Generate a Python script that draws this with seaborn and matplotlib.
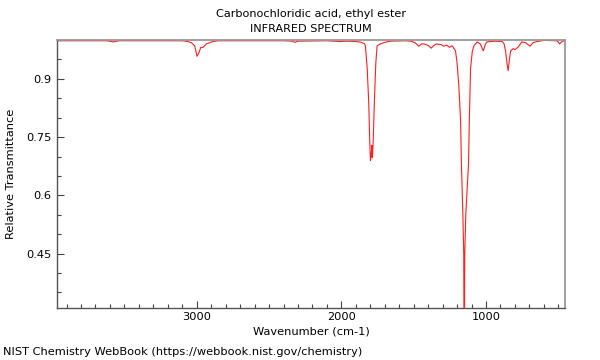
import matplotlib
matplotlib.use("Agg")
import matplotlib.pyplot as plt
import seaborn as sns
import pandas as pd
from matplotlib.ticker import MultipleLocator, FixedLocator

title_line1 = "Carbonochloridic acid, ethyl ester"
title_line2 = "INFRARED SPECTRUM"
x_label = "Wavenumber (cm-1)"
y_label = "Relative Transmittance"
footer = "NIST Chemistry WebBook (https://webbook.nist.gov/chemistry)"

# wavenumber (cm-1), high to low
wavenumber = [
    3966, 3800, 3620, 3575, 3540, 3300, 3100, 3060, 3037, 3014,
    2998, 2984, 2972, 2956, 2933, 2889, 2850, 2600, 2400, 2340,
    2322, 2300, 2100, 2007, 1960, 1900, 1860, 1840, 1834, 1822,
    1811, 1804, 1799, 1794, 1790, 1787, 1785, 1780, 1772, 1762,
    1753, 1730, 1700, 1660, 1560, 1520, 1490, 1465, 1445, 1430,
    1400, 1379, 1360, 1343, 1310, 1292, 1273, 1253, 1234, 1211,
    1200, 1188, 1176, 1170, 1160, 1154, 1151, 1147, 1140, 1130,
    1121, 1115, 1107, 1095, 1084, 1061, 1040, 1019, 1005, 995,
    940, 888, 875, 865, 855, 847, 840, 830, 812, 800,
    777, 753, 725, 696, 675, 661, 600, 509, 491, 475,
    467, 454,
]
transmittance = [
    0.998, 0.998, 0.998, 0.995, 0.998, 0.998, 0.998, 0.996, 0.993, 0.985,
    0.958, 0.968, 0.981, 0.981, 0.990, 0.996, 0.998, 0.998, 0.998, 0.997,
    0.994, 0.997, 0.998, 0.996, 0.997, 0.996, 0.994, 0.990, 0.985, 0.930,
    0.840, 0.740, 0.690, 0.700, 0.729, 0.700, 0.697, 0.740, 0.839, 0.940,
    0.985, 0.990, 0.994, 0.997, 0.998, 0.997, 0.993, 0.984, 0.990, 0.990,
    0.986, 0.979, 0.986, 0.990, 0.988, 0.984, 0.987, 0.981, 0.985, 0.972,
    0.940, 0.882, 0.794, 0.680, 0.550, 0.450, 0.100, 0.450, 0.550, 0.620,
    0.680, 0.800, 0.926, 0.970, 0.985, 0.995, 0.990, 0.972, 0.988, 0.995,
    0.997, 0.996, 0.990, 0.972, 0.940, 0.921, 0.945, 0.972, 0.978, 0.975,
    0.982, 0.995, 0.993, 0.984, 0.993, 0.995, 0.999, 0.998, 0.990, 0.996,
    0.998, 0.996,
]

y_major = [0.45, 0.6, 0.75, 0.9]
y_tick_labels = ["0.45", "0.6", "0.75", "0.9"]
x_major = [3000, 2000, 1000]
x_tick_labels = ["3000", "2000", "1000"]

sns.set_style("ticks")
plt.rcParams["font.family"] = ["DejaVu Sans"]
plt.rcParams["text.color"] = "black"
plt.rcParams["axes.labelcolor"] = "black"

df = pd.DataFrame({"wn": wavenumber, "tr": transmittance})

fig = plt.figure(figsize=(6, 3.6), dpi=100)
ax = fig.add_axes([57 / 600, 1 - 308 / 360, (565 - 57) / 600, (308 - 40) / 360])

sns.lineplot(data=df, x="wn", y="tr", sort=False, estimator=None,
             color="#ff2020", linewidth=0.8, ax=ax)

ax.set_xlim(3966, 454)
ax.set_ylim(0.31, 1.0)

ax.xaxis.set_major_locator(FixedLocator(x_major))
ax.set_xticklabels(x_tick_labels)
ax.xaxis.set_minor_locator(MultipleLocator(100))
ax.yaxis.set_major_locator(FixedLocator(y_major))
ax.set_yticklabels(y_tick_labels)
ax.yaxis.set_minor_locator(MultipleLocator(0.05))

ax.tick_params(which="both", direction="in", colors="#444444", labelcolor="black",
               labelsize=8.2, top=False, right=False)
ax.tick_params(which="major", length=5, width=0.8)
ax.tick_params(axis="x", which="major", pad=3)
ax.tick_params(axis="y", which="major", pad=4)
ax.tick_params(which="minor", length=3, width=0.8)

for side in ["left", "bottom"]:
    ax.spines[side].set_color("#555555")
    ax.spines[side].set_linewidth(1.0)
for side in ["top", "right"]:
    ax.spines[side].set_visible(True)
    ax.spines[side].set_color("#999999")
    ax.spines[side].set_linewidth(1.3)

ax.set_xlabel(x_label, fontsize=8.2, labelpad=3)
ax.set_ylabel(y_label, fontsize=8.2)
ax.yaxis.set_label_coords((16 - 57) / 508, 0.5)
ax.set_title(title_line1 + "\n" + title_line2, fontsize=8.1, pad=6, linespacing=1.6)

fig.text(3 / 600, 1 - 352 / 360, footer, fontsize=8.2, ha="left", va="center")

fig.savefig("out.png", dpi=100)
